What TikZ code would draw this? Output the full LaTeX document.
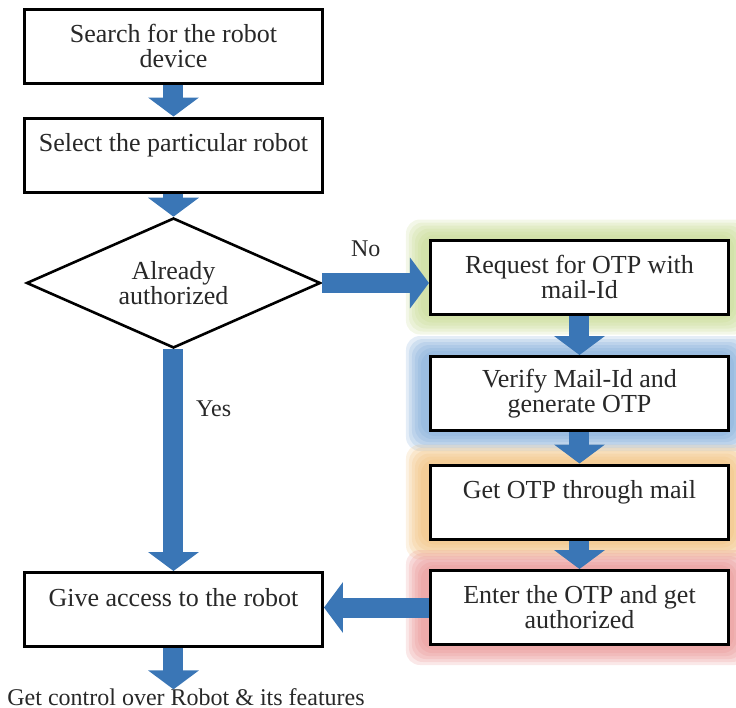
\documentclass[tikz,border=0pt]{standalone}
\usepackage{fontspec}
\setmainfont{Liberation Serif}
\usetikzlibrary{shapes.geometric,arrows.meta,backgrounds}

\definecolor{arrowblue}{RGB}{58,118,182}
\definecolor{txtgray}{RGB}{40,40,40}
\definecolor{glowgreen}{RGB}{196,216,140}
\definecolor{glowblue}{RGB}{120,166,214}
\definecolor{gloworange}{RGB}{240,188,115}
\definecolor{glowred}{RGB}{232,140,140}

\tikzset{
	stepbox/.style={draw=black, line width=1.5pt, fill=white, minimum width=149pt, minimum height=37pt, inner sep=2pt, align=center, text=txtgray, font=\fontsize{13}{12.5}\selectfont},
	askbox/.style={diamond, shape aspect=2.3, draw=black, line width=1.3pt, fill=white, minimum width=147pt, minimum height=65pt, inner sep=0pt, align=center, text=txtgray, font=\fontsize{13}{12.5}\selectfont},
	flow/.style={arrowblue, line width=10pt, -{Triangle[width=25pt,length=9.5pt]}},
	lbl/.style={text=txtgray, font=\fontsize{12}{12}\selectfont}
}

\begin{document}
\begin{tikzpicture}[x=0.5pt, y=-0.5pt]
	
	\useasboundingbox (0,0) rectangle (736,708);
	
	\node [stepbox] (search) at (173.5,46) {Search for the robot\\device};
	
	\node [stepbox] (select) at (173.5,155) {Select the particular robot\\ ~};
	
	\node [askbox] (ask) at (173.5,283) {Already\\authorized};
	
	\node [stepbox] (reqotp) at (579.5,277) {Request for OTP with\\mail-Id};
	
	\node [stepbox] (verify) at (579.5,393.5) {Verify Mail-Id and\\generate OTP};
	
	\node [stepbox] (getotp) at (579.5,502) {Get OTP through mail\\ ~};
	
	\node [stepbox] (enter) at (579.5,607.5) {Enter the OTP and get\\authorized};
	
	\node [stepbox] (access) at (173.5,609.5) {Give access to the robot\\ ~};
	
	\node [lbl] (result) at (186,697) {Get control over Robot \& its features};
	
	
	\begin{scope}[on background layer]
		\foreach \n/\c in {reqotp/glowgreen, verify/glowblue, getotp/gloworange, enter/glowred}
			\foreach \d in {19,16,13,10,7,4}
				\fill [\c, opacity=.2, rounded corners=7pt] ([shift={(-\d-4,-\d)}]\n.north west) rectangle ([shift={(\d,\d)}]\n.south east);
	\end{scope}
	
	
	\draw [flow] (search) -- (select);
	
	\draw [flow] (select) -- (ask);
	
	\draw [flow] (ask.east) -- (ask.east -| reqotp.west) node [lbl, pos=.41, above=5pt] {No};
	
	\draw [flow] (ask.south) -- (access.north) node [lbl, pos=.27, right=3pt] {Yes};
	
	\draw [flow] (reqotp) -- (verify);
	
	\draw [flow] (verify) -- (getotp);
	
	\draw [flow] (getotp) -- (enter);
	
	\draw [flow] (enter.west) -- (enter.west -| access.east);
	
	\draw [flow] (access.south) -- ([yshift=-4]access.south |- result.north);
	
\end{tikzpicture}
\end{document}
